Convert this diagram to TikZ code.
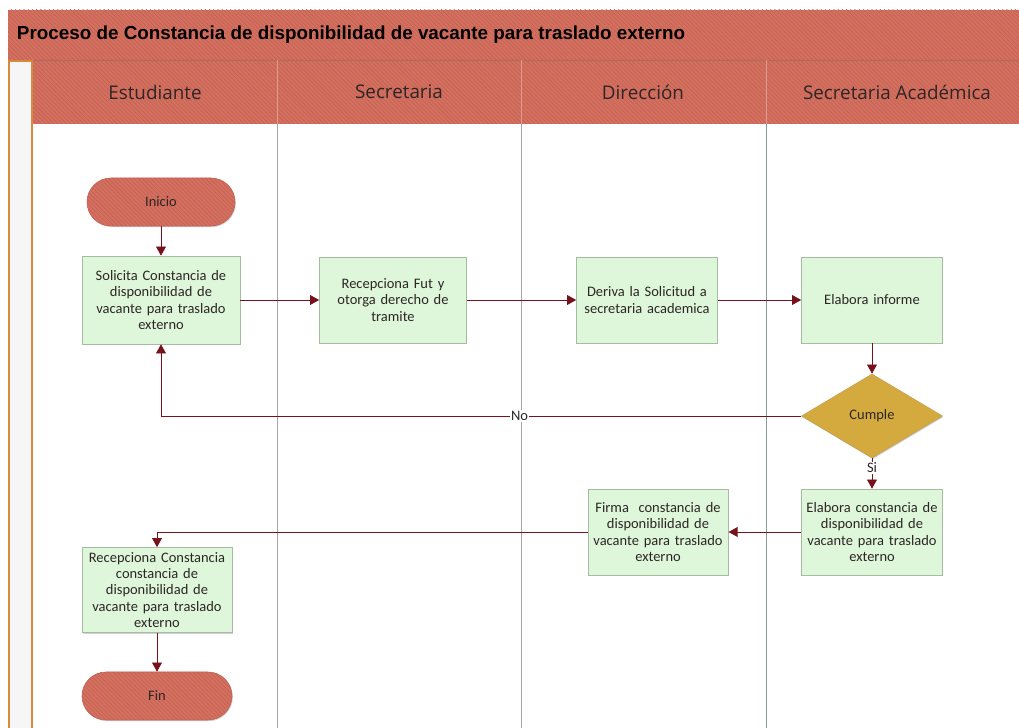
\documentclass[tikz,border=0pt]{standalone}
\usepackage{fontspec}
\setmainfont{Carlito}
\newfontfamily\titlefont{Liberation Sans}
\newfontfamily\lanefont{Open Sans}
\usepackage{tikz}
\usetikzlibrary{shapes.geometric}
\usetikzlibrary{arrows.meta}
\usetikzlibrary{patterns}
\usetikzlibrary{shadows}

\definecolor{rojo}{RGB}{212,112,96}
\definecolor{rojoraya}{RGB}{196,96,82}
\definecolor{verde}{RGB}{222,246,218}
\definecolor{verdeborde}{RGB}{165,188,160}
\definecolor{oro}{RGB}{212,170,62}
\definecolor{oroborde}{RGB}{190,160,80}
\definecolor{flecha}{RGB}{120,18,26}
\definecolor{carril}{RGB}{165,165,165}
\definecolor{naranja}{RGB}{217,137,58}
\definecolor{texto}{RGB}{45,38,38}

\tikzset{
    rayado/.style={fill=rojo, postaction={pattern=north west lines, pattern color=rojoraya}},
    sombra/.style={drop shadow={shadow xshift=0.6pt, shadow yshift=-0.8pt, opacity=0.3, fill=black!60}},
    proceso/.style={rectangle, draw=verdeborde, fill=verde, sombra, text=texto,
        text width=3.35cm, inner sep=0.08cm, align=center, minimum height=2.15cm,
        font=\fontsize{10.3}{11.6}\selectfont},
    terminal/.style={rectangle, rounded corners=0.6cm, draw=rojoraya, rayado, sombra,
        text=texto, minimum height=1.2cm, font=\fontsize{10.3}{12}\selectfont},
    decision/.style={diamond, draw=oroborde, fill=oro, sombra, text=texto, inner sep=0pt,
        minimum width=3.525cm, minimum height=2.1cm, aspect=1.68,
        font=\fontsize{10.3}{12}\selectfont},
    conector/.style={draw=flecha, line width=0.6pt, -{Triangle[length=6.5pt,width=7pt]}},
    etiqueta/.style={fill=white, inner sep=1pt, text=texto, font=\fontsize{10.3}{12}\selectfont},
    carriltxt/.style={text=texto, font=\lanefont\fontsize{13.4}{16}\selectfont},
}

\begin{document}
\begin{tikzpicture}[x=0.025cm, y=-0.025cm]
    \useasboundingbox (0,0) rectangle (1019,728);

    \fill[rayado] (8,10) rectangle (1019,60);
    \fill[rayado] (33,60) rectangle (1019,124);
    \draw[rojoraya!60!gray, line width=0.6pt] (8,60) -- (1019,60);
    \draw[draw=naranja, fill=gray!7, line width=0.9pt] (9,61) rectangle (32,740);

    \draw[rojo!70!white, line width=0.6pt] (277,60) -- (277,124);
    \draw[rojo!70!white, line width=0.6pt] (521,60) -- (521,124);
    \draw[rojo!70!white, line width=0.6pt] (766,60) -- (766,124);
    \draw[carril, line width=0.6pt] (277,124) -- (277,728);
    \draw[carril, line width=0.6pt] (521,124) -- (521,728);
    \draw[carril!80!teal, line width=0.6pt] (766,124) -- (766,728);

    \node[anchor=west, text=black, font=\titlefont\bfseries\fontsize{13.4}{15}\selectfont] (titulo) at (12,35)
        {Proceso de Constancia de disponibilidad de vacante para traslado externo};

    \node[carriltxt] (estudiante) at (155,92) {Estudiante};
    \node[carriltxt] (secretaria) at (399,92) {Secretaria};
    \node[carriltxt] (direccion) at (643,92) {Dirección};
    \node[carriltxt] (academica) at (897,92) {Secretaria Académica};

    \node[terminal, minimum width=3.7cm] (inicio) at (161,202) {Inicio};
    \node[proceso, minimum width=3.95cm, minimum height=2.2cm] (solicita) at (161,300)
        {Solicita Constancia de\\disponibilidad de\\vacante para traslado\\externo};
    \node[proceso, minimum width=3.675cm] (fut) at (393,300)
        {Recepciona Fut y\\otorga derecho de\\tramite};
    \node[proceso, minimum width=3.525cm] (deriva) at (647,300)
        {Deriva la Solicitud a\\secretaria academica};
    \node[proceso, minimum width=3.525cm] (informe) at (872,300) {Elabora informe};
    \node[decision] (cumple) at (872,416) {Cumple};
    \node[proceso, minimum width=3.525cm] (elabora) at (872,532)
        {Elabora constancia de\\disponibilidad de\\vacante para traslado\\externo};
    \node[proceso, minimum width=3.5cm] (firma) at (658,532)
        {Firma\ \ constancia de\\disponibilidad de\\vacante para traslado\\externo};
    \node[proceso, text width=3.6cm, inner sep=0.05cm, minimum width=3.75cm, minimum height=2.125cm] (recibe) at (157,590)
        {Recepciona Constancia\\constancia de\\disponibilidad de\\vacante para traslado\\externo};
    \node[terminal, minimum width=3.75cm] (fin) at (157,696) {Fin};

    \draw[conector] (inicio) -- (solicita);
    \draw[conector] (solicita) -- (fut);
    \draw[conector] (fut) -- (deriva);
    \draw[conector] (deriva) -- (informe);
    \draw[conector] (informe) -- (cumple);
    \draw[conector] (cumple.west) -| node[etiqueta, pos=0.22] {No} (solicita.south);
    \draw[conector] (cumple.south) -- node[etiqueta, pos=0.32] {Si} (elabora.north);
    \draw[conector] (elabora) -- (firma);
    \draw[conector] (firma.west) -| (recibe.north);
    \draw[conector] (recibe) -- (fin);
\end{tikzpicture}
\end{document}
